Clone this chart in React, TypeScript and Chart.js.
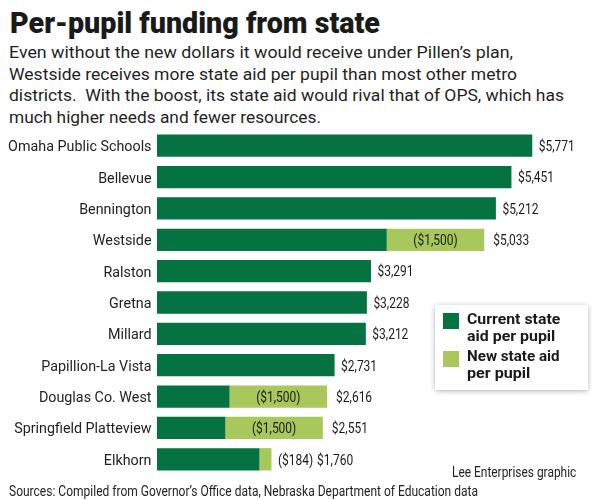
import { useEffect, useLayoutEffect, useRef } from "react"
import type { ReactNode, CSSProperties } from "react"
import { Chart, registerables } from "chart.js"

Chart.register(...registerables)

// districts, top to bottom
const districts = [
  "Omaha Public Schools",
  "Bellevue",
  "Bennington",
  "Westside",
  "Ralston",
  "Gretna",
  "Millard",
  "Papillion-La Vista",
  "Douglas Co. West",
  "Springfield Platteview",
  "Elkhorn",
]

// current state aid per pupil ($)
const currentAid = [5771, 5451, 5212, 3533, 3291, 3228, 3212, 2731, 1116, 1051, 1576]

// new state aid per pupil under the plan ($)
const newAid = [0, 0, 0, 1500, 0, 0, 0, 0, 1500, 1500, 184]

const DARK = "#047241"
const LIGHT = "#a9c85c"
const FONT = "Roboto, 'Noto Sans', sans-serif"

const money = (v: number) => "$" + v.toLocaleString("en-US")

// the original uses a condensed face; squeeze Roboto horizontally to match
function squeezed(ctx: CanvasRenderingContext2D, text: string, x: number, y: number, sx: number, align: CanvasTextAlign) {
  ctx.save()
  ctx.translate(x, y)
  ctx.scale(sx, 1)
  ctx.textAlign = align
  ctx.fillText(text, 0, 0)
  ctx.restore()
  return ctx.measureText(text).width * sx
}

const labelPlugin = {
  id: "labelPlugin",
  afterDatasetsDraw(chart: Chart) {
    const ctx = chart.ctx
    const cur = chart.getDatasetMeta(0)
    const add = chart.getDatasetMeta(1)
    const left = chart.chartArea.left
    ctx.save()
    ctx.textBaseline = "alphabetic"

    // category names
    ctx.font = `15.5px ${FONT}`
    ctx.fillStyle = "#222"
    const sxCat = 143.4 / ctx.measureText(districts[0]).width
    districts.forEach((name, i) => {
      const y = (cur.data[i] as any).y
      squeezed(ctx, name, left - 5.5, y + 5.5, sxCat, "right")
    })

    // values
    ctx.font = `15px ${FONT}`
    ctx.fillStyle = "#1a1a1a"
    const sxVal = 36 / ctx.measureText("$5,771").width
    districts.forEach((_, i) => {
      const a: any = cur.data[i]
      const b: any = add.data[i]
      const y = a.y + 5.3
      const total = currentAid[i] + newAid[i]
      if (newAid[i] === 0) {
        squeezed(ctx, money(total), a.x + 6.5, y, sxVal, "left")
        return
      }
      const txt = `(${money(newAid[i])})`
      if (b.x - a.x > 70) {
        squeezed(ctx, txt, (a.x + b.x) / 2, y, sxVal, "center")
        squeezed(ctx, money(total), b.x + 9, y, sxVal, "left")
      } else {
        const w = squeezed(ctx, txt, b.x + 6.5, y, sxVal, "left")
        squeezed(ctx, money(total), b.x + 6.5 + w + 4, y, sxVal, "left")
      }
    })
    ctx.restore()
  },
}

function BarChart() {
  const chartRef = useRef<HTMLCanvasElement>(null)
  const chartInstance = useRef<Chart | null>(null)

  useEffect(() => {
    if (!chartRef.current) return
    if (chartInstance.current) chartInstance.current.destroy()
    const ctx = chartRef.current.getContext("2d")
    if (!ctx) return
    chartInstance.current = new Chart(ctx, {
      type: "bar",
      data: {
        labels: districts,
        datasets: [
          {
            label: "Current state aid per pupil",
            data: currentAid,
            backgroundColor: DARK,
            barPercentage: 0.71,
            categoryPercentage: 1,
          },
          {
            label: "New state aid per pupil",
            data: newAid,
            backgroundColor: LIGHT,
            barPercentage: 0.71,
            categoryPercentage: 1,
          },
        ],
      },
      options: {
        indexAxis: "y",
        animation: false,
        responsive: false,
        maintainAspectRatio: false,
        layout: { padding: 0 },
        plugins: {
          legend: { display: false },
          tooltip: { enabled: false },
        },
        scales: {
          x: {
            stacked: true,
            display: false,
            min: 0,
            max: 6690,
          },
          y: {
            stacked: true,
            grid: { display: false },
            border: { display: false },
            ticks: { display: false },
            afterFit: (scale: any) => {
              scale.width = 157
              scale.paddingTop = 0
              scale.paddingBottom = 0
            },
          },
        },
      },
      plugins: [labelPlugin],
    })
    return () => {
      if (chartInstance.current) {
        chartInstance.current.destroy()
        chartInstance.current = null
      }
    }
  }, [])

  return (
    <canvas
      ref={chartRef}
      width={592}
      height={345}
      style={{ position: "absolute", left: 0, top: 130, width: 592, height: 345 }}
    />
  )
}

// one line of text squeezed to a given width
function Fit({ width, children, style }: { width: number; children: ReactNode; style?: CSSProperties }) {
  const ref = useRef<HTMLSpanElement>(null)
  useLayoutEffect(() => {
    const el = ref.current
    if (!el) return
    el.style.transform = "none"
    const w = el.getBoundingClientRect().width
    if (w > 0) el.style.transform = `scaleX(${width / w})`
  })
  return (
    <span
      ref={ref}
      style={{ display: "inline-block", whiteSpace: "nowrap", transformOrigin: "left top", ...style }}
    >
      {children}
    </span>
  )
}

const subLines: [string, number][] = [
  ["Even without the new dollars it would receive under Pillen’s plan,", 504],
  ["Westside receives more state aid per pupil than most other metro", 508],
  ["districts.\u00a0 With the boost, its state aid would rival that of OPS, which has", 555],
  ["much higher needs and fewer resources.", 312],
]

export default function App() {
  useEffect(() => {
    document.body.style.margin = "0"
  }, [])

  const lineStyle: CSSProperties = { display: "block", height: 21.6 }
  const legendText: CSSProperties = {
    position: "absolute",
    left: 31.5,
    fontSize: 15.5,
    fontWeight: 700,
    lineHeight: "17px",
    color: "#1a1a1a",
  }

  return (
    <div
      style={{
        position: "relative",
        width: 592,
        height: 500,
        background: "#fff",
        fontFamily: FONT,
        color: "#222",
        overflow: "hidden",
      }}
    >
      <div style={{ position: "absolute", left: 10, top: 9, fontSize: 29.5, lineHeight: "29px", color: "#1a1a1a" }}>
        <Fit width={370} style={{ fontWeight: 900 }}>
          Per-pupil funding from state
        </Fit>
      </div>
      <div style={{ position: "absolute", left: 9, top: 42.3, fontSize: 17, lineHeight: "21.6px", color: "#1f1f1f" }}>
        {subLines.map(([t, w]) => (
          <div key={t} style={lineStyle}>
            <Fit width={w}>{t}</Fit>
          </div>
        ))}
      </div>
      <BarChart />
      <div
        style={{
          position: "absolute",
          left: 435,
          top: 305,
          width: 153,
          height: 85,
          background: "#fff",
          boxShadow: "0 1px 5px rgba(0,0,0,0.3)",
        }}
      >
        <div style={{ position: "absolute", left: 7.7, top: 8.3, width: 16.5, height: 15.5, background: DARK }} />
        <div style={{ position: "absolute", left: 7.7, top: 46, width: 16.5, height: 15.5, background: LIGHT }} />
        <div style={{ ...legendText, top: 6 }}>
          <Fit width={93.3}>Current state</Fit>
          <br />
          <Fit width={88.3}>aid per pupil</Fit>
        </div>
        <div style={{ ...legendText, top: 43 }}>
          <Fit width={92.6}>New state aid</Fit>
          <br />
          <Fit width={63.3}>per pupil</Fit>
        </div>
      </div>
      <div style={{ position: "absolute", left: 452, top: 463.8, fontSize: 14, lineHeight: "16px", color: "#222" }}>
        <Fit width={124.3}>Lee Enterprises graphic</Fit>
      </div>
      <div style={{ position: "absolute", left: 9, top: 483, fontSize: 14, lineHeight: "16px", color: "#222" }}>
        <Fit width={469}>Sources: Compiled from Governor’s Office data, Nebraska Department of Education data</Fit>
      </div>
    </div>
  )
}
